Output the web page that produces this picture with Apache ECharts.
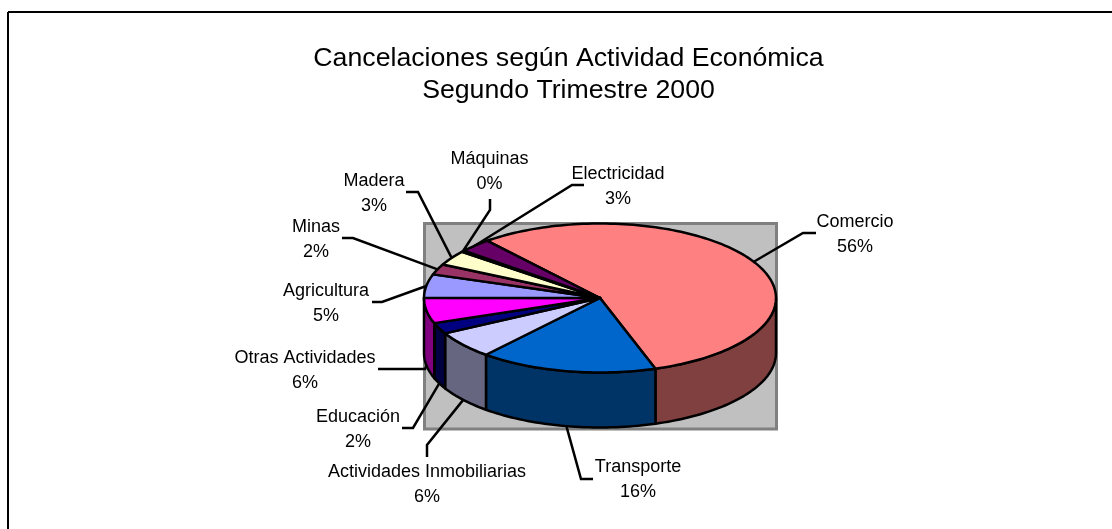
<!DOCTYPE html>
<html>
<head>
<meta charset="utf-8">
<style>html,body{margin:0;padding:0;background:#fff}#c{width:1112px;height:529px}</style>
<script src="https://cdn.jsdelivr.net/npm/echarts@6/dist/echarts.min.js"></script>
</head>
<body>
<div id="c"></div>
<script>
var categories = ['Comercio','Transporte','Actividades Inmobiliarias','Educación','Otras Actividades','Agricultura','Minas','Madera','Máquinas','Electricidad'];
var values = [55.9,16.3,5.9,2.4,5.5,5.1,2.3,3.2,0.3,3.0];
var topColors = ['#FF8080','#0066CC','#CCCCFF','#000080','#FF00FF','#9999FF','#993366','#FFFFCC','#CCFFFF','#660066'];
var sideColors = ['#804040','#003366','#666680','#000040','#800080','#4D4D80','#4D1A33','#808066','#668080','#330033'];
var titleLines = ['Cancelaciones según Actividad Económica','Segundo Trimestre 2000'];

// layout only (label centres and leader-line bends), kept apart from the data
var labelCenters = [[855,234.5],[638,479.5],[427,484.5],[358,429.5],[305,370.5],[326,303.5],[316,239.5],[374,193.5],[489.5,171.5],[618,186.5]];
var leaderBends = [[803,233],[581,479],[427,445],[413,428],[425,369],[382,302],[353,238],[418,192],[490,210],[572,185]];
var leaderEnds = [[816,233],[593,479],[427,457],[402,428],[378,369],[372,302],[342,238],[406,192],[490,199],[584,185]];

var CX=600, CY=298, RX=176, RY=74.5, DEPTH=55, START=-39.8;
var total = values.reduce(function(a,b){return a+b;},0);
var starts = []; (function(){var s=START; values.forEach(function(v){starts.push(s); s+=v/total*360;});})();

function pt(deg,dy){var r=deg*Math.PI/180; return [CX+RX*Math.sin(r), CY-RY*Math.cos(r)+(dy||0)];}
function arc(a0,a1,dy){var n=Math.max(2,Math.ceil(Math.abs(a1-a0)/1.5)),o=[];for(var i=0;i<=n;i++)o.push(pt(a0+(a1-a0)*i/n,dy));return o;}

function renderSlice(params){
  var i=params.dataIndex, a0=starts[i], a1=a0+values[i]/total*360, kids=[];
  var line={stroke:'#000',lineWidth:2.5,lineJoin:'round'};
  var f0=Math.max(a0,90), f1=Math.min(a1,270);
  if(f1>f0){
    kids.push({type:'polygon',shape:{points:arc(f0,f1,0).concat(arc(f1,f0,DEPTH))},
      style:Object.assign({fill:sideColors[i]},line)});
  }
  kids.push({type:'polygon',shape:{points:[[CX,CY]].concat(arc(a0,a1,0))},
    style:Object.assign({fill:topColors[i]},line)});
  var mid=(a0+a1)/2, norm=((mid%360)+360)%360;
  var start=pt(mid,(norm>90&&norm<270)?DEPTH:0);
  var pts=[start]; if(leaderBends[i])pts.push(leaderBends[i]); pts.push(leaderEnds[i]);
  kids.push({type:'polyline',shape:{points:pts},style:{stroke:'#000',lineWidth:2.5,fill:null,lineJoin:'miter'}});
  kids.push({type:'text',style:{text:categories[i]+'\n'+Math.round(values[i]/total*100)+'%',
    x:labelCenters[i][0],y:labelCenters[i][1],align:'center',verticalAlign:'middle',
    fontFamily:'"Liberation Sans",Arial,sans-serif',fontSize:18,lineHeight:25,fill:'#000'}});
  return {type:'group',children:kids};
}

var chart=echarts.init(document.getElementById('c'),null,{renderer:'canvas'});
chart.setOption({
  animation:false,
  backgroundColor:'#fff',
  title:{text:titleLines.join('\n'),left:563.5,top:38,textAlign:'center',
    textStyle:{fontFamily:'"Liberation Sans",Arial,sans-serif',fontSize:26.7,fontWeight:'normal',color:'#000',lineHeight:32}},
  graphic:[
    {type:'rect',z:0,shape:{x:424.5,y:223.5,width:352,height:205.5},style:{fill:'#C0C0C0',stroke:'#808080',lineWidth:3}},
    {type:'line',z:0,shape:{x1:8,y1:12,x2:1112,y2:12},style:{stroke:'#000',lineWidth:2}},
    {type:'line',z:0,shape:{x1:8,y1:12,x2:8,y2:529},style:{stroke:'#000',lineWidth:2}}
  ],
  series:[{type:'custom',coordinateSystem:'none',z:5,data:values,renderItem:renderSlice,silent:true}]
});
</script>
</body>
</html>
